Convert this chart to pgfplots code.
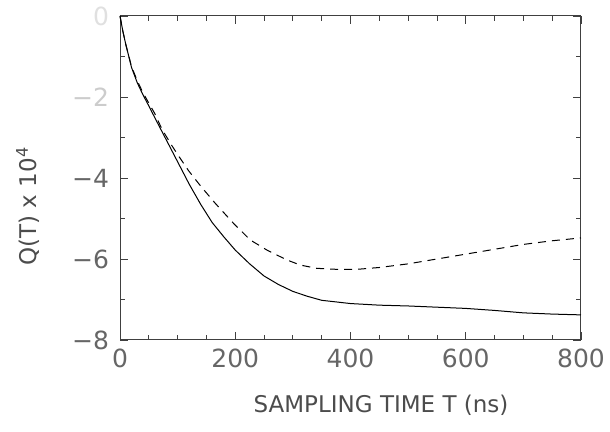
\documentclass[border=0pt]{standalone}
\usepackage{fontspec}
\setmainfont{DejaVu Sans}
\usepackage{pgfplots}
\pgfplotsset{compat=1.18}

\begin{document}
\begin{tikzpicture}
\path[use as bounding box] (0,0) rectangle (305pt,216pt);
\begin{axis}[
    at={(60pt,46pt)}, anchor=south west,
    scale only axis,
    width=230.5pt, height=162pt,
    xmin=0, xmax=800, ymin=-8, ymax=0,
    xtick={0,200,400,600,800},
    ytick={-8,-6,-4,-2,0},
    yticklabels={−8,−6,−4,{\color{black!20}−2},{\color{black!12}0}},
    minor x tick num=3,
    minor y tick num=1,
    tick align=inside,
    major tick length=4pt,
    minor tick length=2.5pt,
    axis line style={black!75, line width=0.5pt},
    tick style={black!75, line width=0.4pt},
    /pgf/number format/assume math mode=true,
    ticklabel style={font=\fontsize{12.5}{15}\selectfont, text=black!60},
    xticklabel style={yshift=-1pt},
    yticklabel style={xshift=-2pt},
    clip=false,
]
% solid curve
\addplot[black, line width=0.5pt] coordinates {
    (0,0) (5,-0.38) (10,-0.7) (20,-1.27) (30,-1.65) (40,-1.95) (50,-2.22)
    (60,-2.5) (80,-3.05) (100,-3.6) (120,-4.15) (140,-4.65) (160,-5.1)
    (180,-5.45) (200,-5.78) (225,-6.12) (250,-6.42) (275,-6.63) (300,-6.8)
    (325,-6.92) (350,-7.02) (400,-7.1) (450,-7.14) (500,-7.16) (550,-7.19)
    (600,-7.22) (650,-7.27) (700,-7.33) (750,-7.36) (800,-7.38)
};
% dashed curve
\addplot[black, line width=0.5pt, dash pattern=on 4pt off 3pt] coordinates {
    (0,0) (5,-0.38) (10,-0.7) (20,-1.25) (30,-1.6) (40,-1.9) (50,-2.15)
    (60,-2.4) (73,-2.8) (90,-3.2) (100,-3.42) (119,-3.82) (140,-4.2)
    (165,-4.62) (197,-5.12) (226,-5.53) (255,-5.78) (289,-6.02) (313,-6.15)
    (341,-6.23) (382,-6.26) (416,-6.25) (450,-6.21) (500,-6.12) (550,-6.0)
    (600,-5.88) (650,-5.76) (700,-5.64) (750,-5.55) (800,-5.48)
};
\end{axis}
\node[rotate=90, font=\fontsize{11.5}{14}\selectfont, text=black!70] at (14pt,113pt) {Q(T) x 10\textsuperscript{4}};
\node[font=\fontsize{11.5}{14}\selectfont, text=black!70] at (190.5pt,13.5pt) {SAMPLING TIME T (ns)};
\end{tikzpicture}
\end{document}
